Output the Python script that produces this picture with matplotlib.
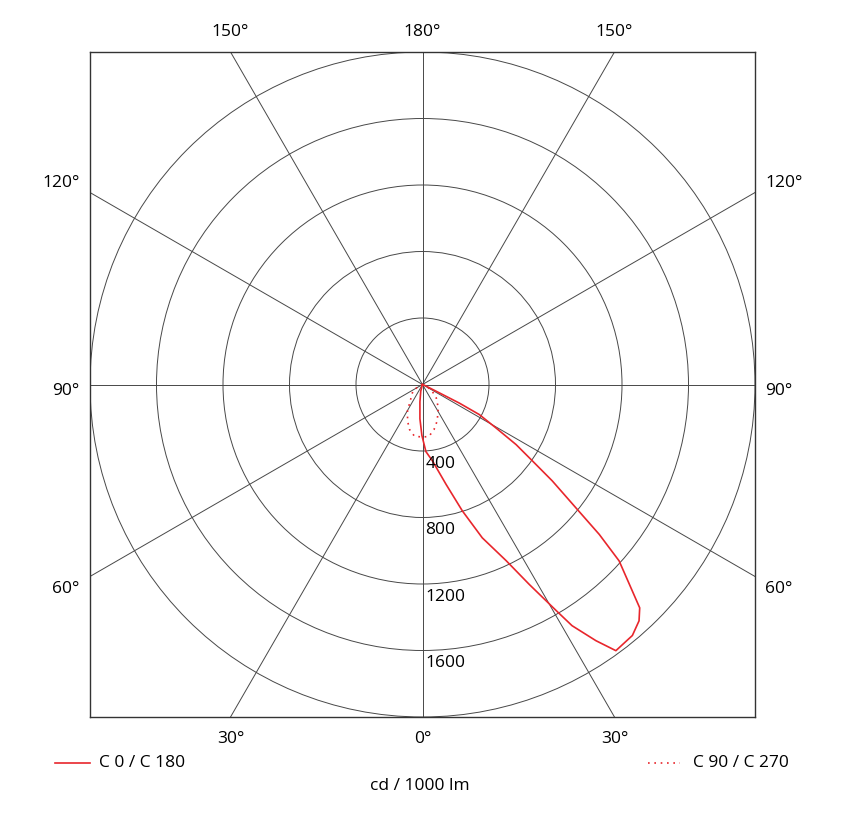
import numpy as np
import matplotlib.pyplot as plt
from matplotlib.patches import Circle
from matplotlib.lines import Line2D

plt.rcParams['font.family'] = ['Open Sans', 'DejaVu Sans']

# C0 / C180 plane: angle from nadir (negative = C180 side), cd / 1000 lm
c0_angles = [-90, -30, -15, -8.5, -4.3, -0.7, 2.9, 7.4, 13.3, 17.5, 21.3, 25.4, 28.1,
             30.6, 31.8, 34.1, 36.0, 39.9, 42.5, 44.2, 46.0, 48.1, 49.7, 51.2, 53.4,
             55.2, 57.3, 59.4, 62.1, 63.2, 63.6, 66, 75, 90]
c0_values = [0, 0, 40, 105, 207, 306, 404, 463, 618, 797, 990, 1173, 1363,
             1580, 1707, 1861, 1979, 1968, 1928, 1874, 1730, 1589, 1394, 1184, 972,
             805, 669, 514, 387, 249, 114, 20, 4, 0]

# C90 / C270 plane
c90_angles = [-90, -65, -55, -36.7, -29.5, -22.3, -16, -8.8, 0, 7, 14.3, 22, 34, 45.6, 55, 65, 90]
c90_values = [0, 30, 71, 124, 183, 237, 282, 315, 316, 315, 280, 236, 170, 116, 72, 30, 0]

rings = [400, 800, 1200, 1600, 2000]
ring_labels = ['400', '800', '1200', '1600']
spokes = [0, 30, 60, 90, 120, 150]

red = '#e8262c'
grid_c = '#484848'

fig = plt.figure(figsize=(8.46, 8.2), dpi=100)
ax = fig.add_axes([90 / 846, 1 - 718 / 820, 665 / 846, 665 / 820])
ax.set_xlim(-2000, 2000)
ax.set_ylim(-2000, 2000)
ax.set_xticks([])
ax.set_yticks([])
for sp in ax.spines.values():
    sp.set_color('#333333')
    sp.set_linewidth(1.0)

# grid rings and spokes
for r in rings:
    ax.add_patch(Circle((0, 0), r, fill=False, ec=grid_c, lw=0.7))
for a in spokes:
    t = np.radians(a)
    ax.plot([-6000 * np.sin(t), 6000 * np.sin(t)], [6000 * np.cos(t), -6000 * np.cos(t)],
            color=grid_c, lw=0.7)

fs = 12.5
for r, lab in zip(rings, ring_labels):
    ax.text(18, -(r + 72), lab, fontsize=fs, ha='left', va='center')

# curves
def to_xy(angles, values):
    t = np.radians(angles)
    v = np.asarray(values, dtype=float)
    return v * np.sin(t), -v * np.cos(t)

x0, y0 = to_xy(c0_angles, c0_values)
ax.plot(x0, y0, color=red, lw=1.2)
x9, y9 = to_xy(c90_angles, c90_values)
ax.plot(x9, y9, color=red, lw=1.2, linestyle=(0, (1, 2.8)))

# angle labels around frame
for xv, lab in [(-1155, '150°'), (0, '180°'), (1155, '150°')]:
    ax.text(xv, 2129, lab, fontsize=fs, ha='center', va='center', clip_on=False)
for xv, lab in [(-1155, '30°'), (0, '0°'), (1155, '30°')]:
    ax.text(xv, -2129, lab, fontsize=fs, ha='center', va='center', clip_on=False)
for yv, lab in [(1216, '120°'), (-31, '90°'), (-1226, '60°')]:
    ax.text(-2061, yv, lab, fontsize=fs, ha='right', va='center', clip_on=False)
    ax.text(2060, yv, lab, fontsize=fs, ha='left', va='center', clip_on=False)

# legend
ly = 1 - 763.5 / 820
fig.add_artist(Line2D([55 / 846, 90 / 846], [ly, ly], color=red, lw=1.2))
fig.text(99 / 846, ly, 'C 0 / C 180', fontsize=fs, ha='left', va='center')
fig.add_artist(Line2D([648 / 846, 680 / 846], [ly, ly], color=red, lw=1.2, linestyle=(0, (1, 2.8))))
fig.text(693 / 846, ly, 'C 90 / C 270', fontsize=fs, ha='left', va='center')
fig.text(420 / 846, 1 - 786.5 / 820, 'cd / 1000 lm', fontsize=fs, ha='center', va='center')

fig.savefig('out.png', dpi=100)
